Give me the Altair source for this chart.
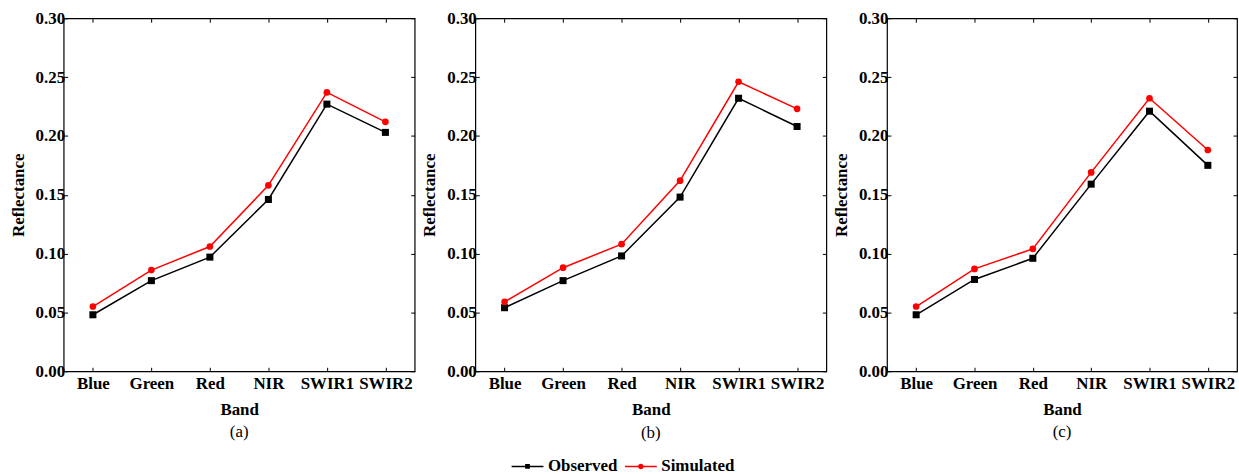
import altair as alt
import pandas as pd

# ---------------- data ----------------
bands = ["Blue", "Green", "Red", "NIR", "SWIR1", "SWIR2"]
series_names = ["Observed", "Simulated"]

obs_a = [0.048, 0.077, 0.097, 0.146, 0.227, 0.203]
sim_a = [0.055, 0.086, 0.106, 0.158, 0.237, 0.212]

obs_b = [0.054, 0.077, 0.098, 0.148, 0.232, 0.208]
sim_b = [0.059, 0.088, 0.108, 0.162, 0.246, 0.223]

obs_c = [0.048, 0.078, 0.096, 0.159, 0.221, 0.175]
sim_c = [0.055, 0.087, 0.104, 0.169, 0.232, 0.188]

panel_labels = ["(a)", "(b)", "(c)"]
y_ticks = [0.0, 0.05, 0.10, 0.15, 0.20, 0.25, 0.30]

# ---------------- style ----------------
FONT = "Liberation Serif"
FS = 17
series_colors = ["#000000", "#ff0000"]
series_shapes = ["square", "circle"]

# legend glyphs: line with marker in the middle (custom symbol paths)
path_obs = ("M-1,-0.1H0.7V0.1H-1Z M1.3,-0.1H3V0.1H1.3Z "
            "M0.7,-0.3H1.3V0.3H0.7Z")
path_sim = ("M-1,-0.1H0.7V0.1H-1Z M1.3,-0.1H3V0.1H1.3Z "
            "M1.35,0A0.35,0.35,0,1,1,0.65,0A0.35,0.35,0,1,1,1.35,0Z")

INWARD = alt.ExprRef(expr="-4")


def make_df(obs, sim):
    rows = []
    for b, o in zip(bands, obs):
        rows.append({"band": b, "series": series_names[0], "value": o})
    for b, s in zip(bands, sim):
        rows.append({"band": b, "series": series_names[1], "value": s})
    return pd.DataFrame(rows)


def panel(obs, sim, label, width, with_legend):
    df = make_df(obs, sim)
    xs = alt.Scale(type="point", domain=bands, padding=0.5)
    ys = alt.Scale(domain=[0, 0.30], nice=False, zero=True)
    cs = alt.Scale(domain=series_names, range=series_colors)

    x_bottom = alt.Axis(orient="bottom", title="Band", labelAngle=0, domain=False,
                        ticks=True, tickSize=INWARD, labelPadding=8,
                        titlePadding=10, grid=False)
    y_left = alt.Axis(orient="left", title="Reflectance", values=y_ticks, format=".2f",
                      domain=False, ticks=True, tickSize=INWARD, labelPadding=3,
                      titlePadding=8, grid=False)
    x_top = alt.Axis(orient="top", title=None, labels=False, domain=False,
                     ticks=True, tickSize=INWARD, grid=False)
    y_right = alt.Axis(orient="right", title=None, labels=False, values=y_ticks,
                       domain=False, ticks=True, tickSize=INWARD, grid=False)

    line = alt.Chart(df).mark_line(strokeWidth=1.5).encode(
        x=alt.X("band:N", scale=xs, sort=bands, axis=x_bottom),
        y=alt.Y("value:Q", scale=ys, axis=y_left),
        color=alt.Color("series:N", scale=cs, legend=None),
    )
    sq = alt.Chart(df).transform_filter(
        alt.datum.series == series_names[0]
    ).mark_point(filled=True, shape=series_shapes[0], size=50, opacity=1).encode(
        x=alt.X("band:N", scale=xs, sort=bands, axis=x_top),
        y=alt.Y("value:Q", scale=ys, axis=y_right),
        color=alt.Color("series:N", scale=cs, legend=None),
    )
    ci = alt.Chart(df).transform_filter(
        alt.datum.series == series_names[1]
    ).mark_point(filled=True, shape=series_shapes[1], size=45, opacity=1).encode(
        x=alt.X("band:N", scale=xs, sort=bands, axis=None),
        y=alt.Y("value:Q", scale=ys, axis=None),
        color=alt.Color("series:N", scale=cs, legend=None),
    )
    layers = [line, sq, ci]
    title_offset = 7

    if with_legend:
        leg = alt.Legend(
            orient="none", legendX=36, legendY=442, direction="horizontal",
            title=None, labelFont=FONT, labelFontSize=FS, labelFontWeight="bold",
            labelColor="black", symbolSize=256, labelOffset=20, columnPadding=7,
            padding=0, symbolStrokeWidth=0, symbolOpacity=1,
        )
        key = alt.Chart(df).transform_filter("false").mark_point(
            filled=True, size=256
        ).encode(
            x=alt.X("band:N", scale=xs, sort=bands, axis=None),
            y=alt.Y("value:Q", scale=ys, axis=None),
            color=alt.Color("series:N", scale=cs, legend=leg),
            shape=alt.Shape("series:N",
                            scale=alt.Scale(domain=series_names, range=[path_obs, path_sim]),
                            legend=leg),
        )
        layers.append(key)
        title_offset = -50

    return alt.layer(*layers).resolve_axis(
        x="independent", y="independent"
    ).resolve_scale(color="independent", shape="independent").properties(
        width=width, height=355,
        title=alt.TitleParams(label, orient="bottom", anchor="middle", frame="group",
                              font=FONT, fontSize=FS, fontWeight="normal", color="black",
                              offset=title_offset),
    )


pa = panel(obs_a, sim_a, panel_labels[0], 353, False)
pb = panel(obs_b, sim_b, panel_labels[1], 353, True)
pc = panel(obs_c, sim_c, panel_labels[2], 352, False)

chart = alt.hconcat(pa, pb, pc, spacing=3).resolve_scale(
    color="independent", shape="independent"
).properties(
    padding={"left": 8, "top": 7, "right": 0, "bottom": 0},
    background="white",
).configure_view(
    stroke="#000000", strokeWidth=1.2
).configure_axis(
    labelFont=FONT, labelFontSize=FS, labelFontWeight="bold", labelColor="black",
    titleFont=FONT, titleFontSize=FS, titleFontWeight="bold", titleColor="black",
    tickColor="black", tickWidth=1,
).configure_title(font=FONT)

chart.save("out.html", embed_options={"renderer": "svg", "actions": False})
